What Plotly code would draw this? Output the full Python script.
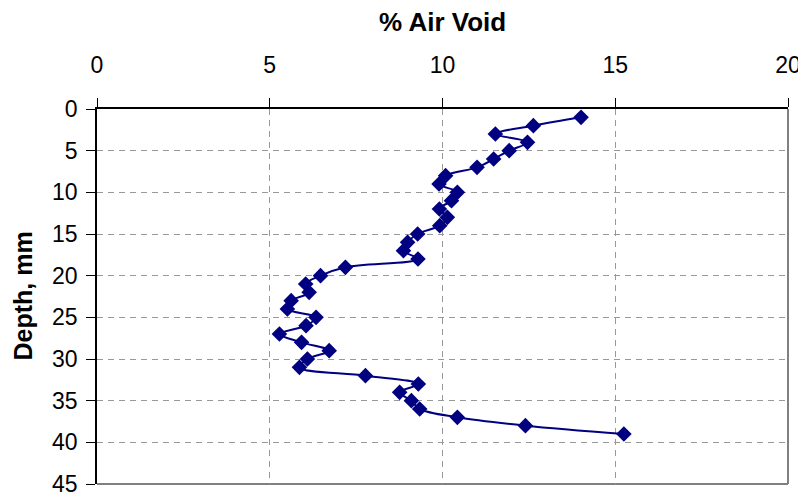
import plotly.graph_objects as go

# depth below surface (mm) and measured air void (%)
depth_mm = list(range(1, 40))
air_void = [
    14.01, 12.63, 11.53, 12.46, 11.93, 11.48, 11.00, 10.09, 9.90, 10.43,
    10.26, 9.91, 10.14, 9.92, 9.28, 8.99, 8.87, 9.29, 7.19, 6.47,
    6.04, 6.14, 5.62, 5.51, 6.34, 6.05, 5.28, 5.92, 6.72, 6.09,
    5.86, 7.77, 9.30, 8.76, 9.10, 9.34, 10.43, 12.40, 15.25,
]

x_ticks = [0, 5, 10, 15, 20]
y_ticks = [0, 5, 10, 15, 20, 25, 30, 35, 40, 45]

navy = "#000080"
font = "Liberation Sans, Arial, sans-serif"

fig = go.Figure()
fig.add_trace(go.Scatter(
    x=air_void,
    y=depth_mm,
    mode="lines+markers",
    line=dict(color=navy, width=2, shape="spline", smoothing=1),
    marker=dict(symbol="diamond", size=12, color=navy),
    showlegend=False,
))

# grey frame on the right and bottom sides of the plot area
fig.add_shape(type="line", xref="paper", yref="paper", x0=1, x1=1, y0=0, y1=1,
              line=dict(color="#808080", width=2), layer="below")
fig.add_shape(type="line", xref="paper", yref="paper", x0=0, x1=1, y0=0, y1=0,
              line=dict(color="#808080", width=2), layer="below")

axis_common = dict(
    ticks="outside",
    ticklen=9,
    tickcolor="black",
    showline=True,
    linecolor="black",
    linewidth=1.5,
    showgrid=True,
    gridcolor="#999999",
    griddash="6px,5px",
    gridwidth=1,
    zeroline=False,
    automargin=False,
    tickfont=dict(size=23),
)

# the page body has an 8px margin, so the figure is sized to fit the window
fig.update_layout(
    width=798,
    height=492,
    margin=dict(l=89, r=18, t=101, b=16),
    paper_bgcolor="white",
    plot_bgcolor="white",
    font=dict(family=font, size=23, color="black"),
    xaxis=dict(side="top", range=[0, 20], tickvals=x_ticks,
               ticklabelstandoff=16, **axis_common),
    yaxis=dict(range=[45, 0], tickvals=y_ticks,
               ticklabelstandoff=4, **axis_common),
    annotations=[
        dict(text="<b>% Air Void</b>", xref="paper", yref="paper",
             x=0.5, y=1, yshift=87, xanchor="center", yanchor="middle",
             showarrow=False, font=dict(family=font, size=26, color="black")),
        dict(text="<b>Depth, mm</b>", xref="paper", yref="paper",
             x=0, xshift=-75, y=0.5, xanchor="center", yanchor="middle",
             textangle=-90, showarrow=False,
             font=dict(family=font, size=25, color="black")),
    ],
)

fig.write_html("out.html")
